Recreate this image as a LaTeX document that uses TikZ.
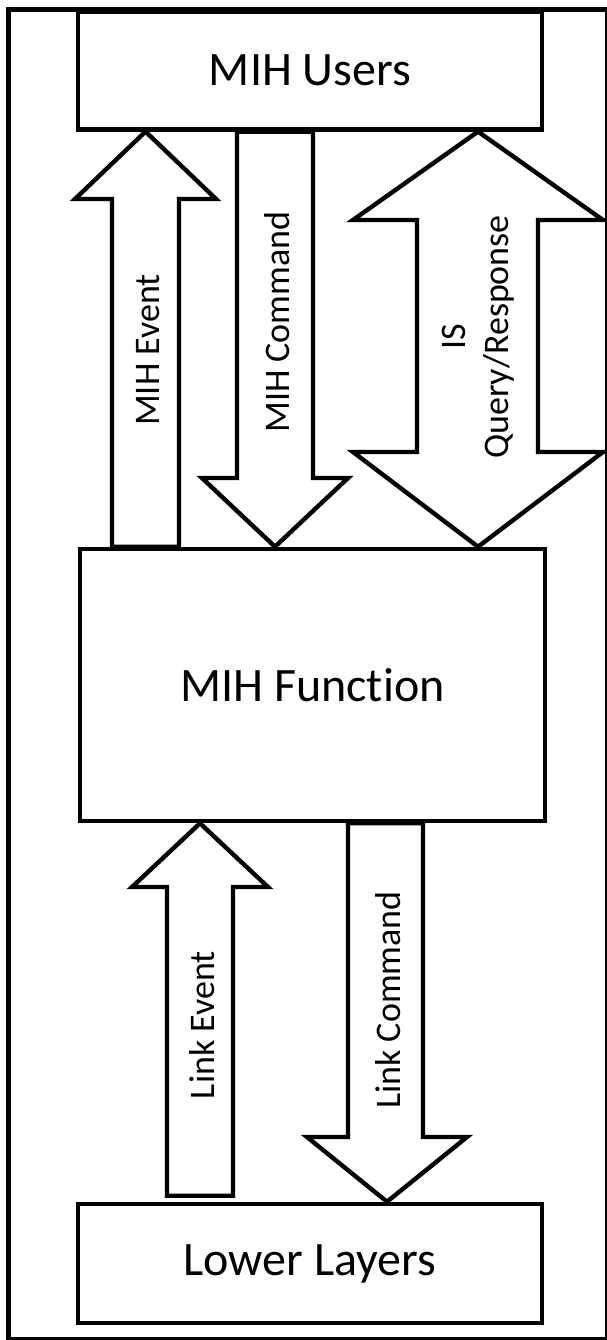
\documentclass[tikz,border=0pt]{standalone}
\usepackage{fontspec}
\setmainfont{Carlito}[Ligatures={NoCommon,NoContextual}]

\tikzset{
  box/.style={draw, line width=3.4pt, font=\fontsize{36}{43}\selectfont},
  blockarrow/.style={draw, line width=3.3pt},
  flowtext/.style={rotate=90, align=center, font=\fontsize{27}{32.5}\selectfont},
}

\begin{document}
\begin{tikzpicture}[x=0.75pt, y=-0.75pt]
    \useasboundingbox (0,0) rectangle (607,1340);
    \draw[line width=3.6pt] (8.5,9.7) rectangle (607.5,1339.5);

    \node[box, minimum width=348pt, minimum height=88.5pt] (users) at (310,70.3) {MIH Users};
    \node[box, minimum width=348.75pt, minimum height=204pt] (func) at (312.5,685) {MIH Function};
    \node[box, minimum width=348pt, minimum height=89.25pt] (lower) at (310,1263.5) {Lower Layers};
    \coordinate (lebase) at ([yshift=4.5pt]lower.north);

    \draw[blockarrow] (112,0 |- func.north) -- (112,199) -- (75,199) -- (145.5,0 |- users.south)
      -- (216,199) -- (179,199) -- (179,0 |- func.north) -- cycle;
    \draw[blockarrow] (237,0 |- users.south) -- (237,478) -- (202,478) -- (275,0 |- func.north)
      -- (348,478) -- (313,478) -- (313,0 |- users.south) -- cycle;
    \draw[blockarrow] (478,0 |- users.south) -- (603,220) -- (538,220) -- (538,452) -- (603,452)
      -- (478,0 |- func.north) -- (353,452) -- (417,452) -- (417,220) -- (353,220) -- cycle;
    \draw[blockarrow] (167,0 |- lebase) -- (167,887) -- (132,887) -- (200,0 |- func.south)
      -- (268,887) -- (233,887) -- (233,0 |- lebase) -- cycle;
    \draw[blockarrow] (348,0 |- func.south) -- (348,1137) -- (307,1137) -- (387,0 |- lower.north)
      -- (467,1137) -- (423,1137) -- (423,0 |- func.south) -- cycle;

    \node[flowtext] (evt) at (148,350) {MIH Event};
    \node[flowtext] (cmd) at (277,322) {MIH Command};
    \node[flowtext] (isq) at (478.5,337) {IS\\Query/Response};
    \node[flowtext] (lev) at (202,1025) {Link Event};
    \node[flowtext] (lcmd) at (388,1000) {Link Command};
\end{tikzpicture}
\end{document}
